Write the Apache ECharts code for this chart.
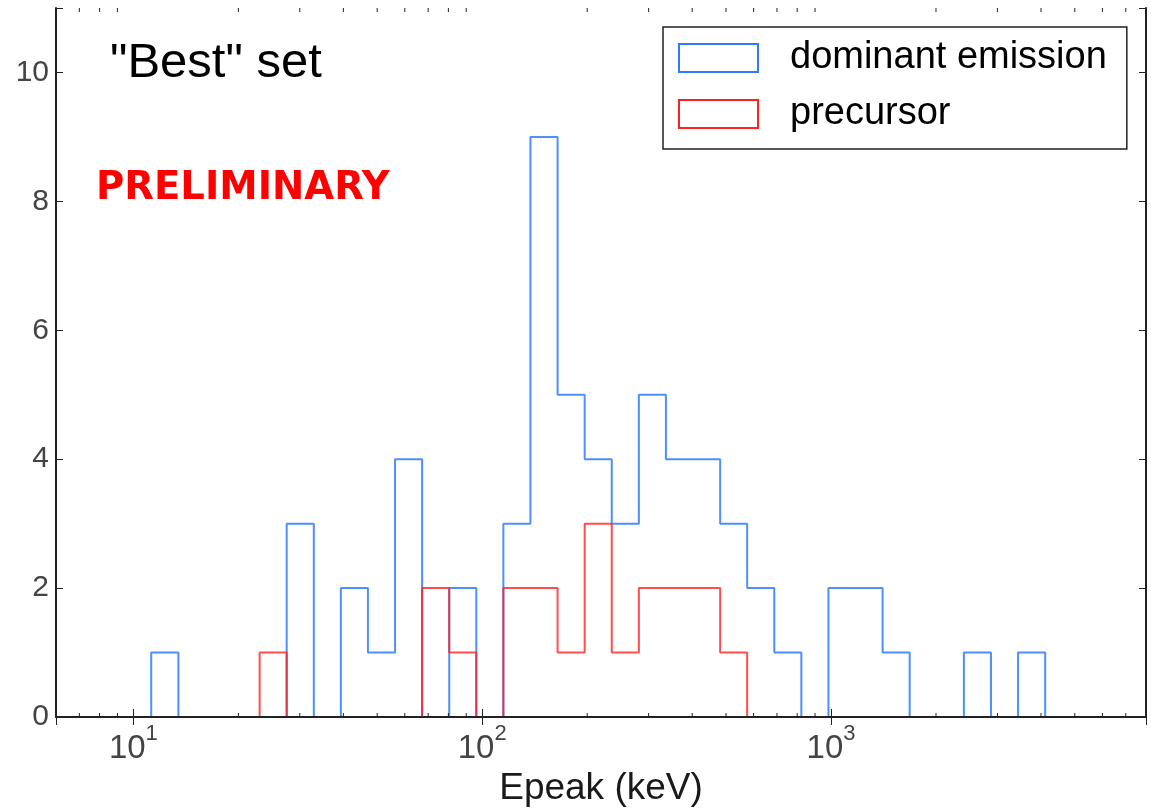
<!DOCTYPE html>
<html>
<head>
<meta charset="utf-8">
<title>Epeak distribution</title>
<script src="https://cdn.jsdelivr.net/npm/echarts@6/dist/echarts.min.js"></script>
<style>
  html, body { margin: 0; padding: 0; background: #fff; }
  #chart { width: 1151px; height: 810px; }
</style>
</head>
<body>
<div id="chart"></div>
<script>
// bin edges in keV (log spaced)
var binEdges = [11.25, 13.46, 16.09, 19.24, 23.01, 27.51, 32.91, 39.34, 47.04, 56.26,
  67.27, 80.45, 96.18, 115.0, 137.5, 164.5, 196.7, 235.2, 281.3, 336.3,
  402.1, 481.1, 575.0, 687.7, 822.2, 983.3, 1176, 1406, 1681, 2011,
  2404, 2875, 3438, 4112];
// counts per bin
var dominantCounts = [1, 0, 0, 0, 0, 3, 0, 2, 1, 4, 0, 2, 0, 3, 9, 5, 4,
  3, 5, 4, 4, 3, 2, 1, 0, 2, 2, 1, 0, 0, 1, 0, 1];
var precursorCounts = [0, 0, 0, 0, 1, 0, 0, 0, 0, 0, 2, 1, 0, 2, 2, 1, 3,
  1, 2, 2, 2, 1, 0, 0, 0, 0, 0, 0, 0, 0, 0, 0, 0];
var seriesNames = ['dominant emission', 'precursor'];
// minor ticks of the log axis
var minorTicks = [7, 8, 9, 20, 30, 40, 50, 60, 70, 80, 90,
  200, 300, 400, 500, 600, 700, 800, 900,
  2000, 3000, 4000, 5000, 6000, 7000];

var BLUE = '#2f7bff';
var RED = '#ff2020';
var FONT = 'Liberation Sans';

function stepData(counts) {
  var d = [[binEdges[0], 0]];
  for (var i = 0; i < counts.length; i++) {
    d.push([binEdges[i], counts[i]]);
  }
  d.push([binEdges[counts.length], 0]);
  return d;
}

function powLabel(v) {
  var l = Math.log10(v);
  var p = Math.round(l);
  if (Math.abs(l - p) > 1e-6) return '';
  return '{b|10}{s|' + p + '}';
}

var axisLine = { show: true, lineStyle: { color: '#222', width: 2 } };

var chartDom = document.getElementById('chart');
var myChart = echarts.init(chartDom);
var option = {
  animation: false,
  grid: { left: 56, right: 5, top: 8, bottom: 93, containLabel: false, outerBoundsMode: 'none' },
  xAxis: [
    {
      type: 'log',
      logBase: 10,
      min: 6,
      max: 8000,
      position: 'bottom',
      z: 5,
      axisLine: axisLine,
      axisTick: { inside: true, length: 8, lineStyle: { color: '#222', width: 1 } },
      splitLine: { show: false },
      axisLabel: {
        margin: 6,
        formatter: powLabel,
        rich: {
          b: { fontSize: 33, fontFamily: FONT, color: '#444', lineHeight: 42, verticalAlign: 'bottom' },
          s: { fontSize: 22, fontFamily: FONT, color: '#444', verticalAlign: 'top' }
        }
      },
      name: 'Epeak (keV)',
      nameLocation: 'middle',
      nameGap: 53,
      nameTextStyle: { fontSize: 37, fontFamily: FONT, color: '#1a1a1a' }
    },
    {
      type: 'log',
      logBase: 10,
      min: 6,
      max: 8000,
      position: 'top',
      z: 5,
      axisLine: axisLine,
      axisTick: { inside: true, length: 8, lineStyle: { color: '#222', width: 1 } },
      axisLabel: { show: false },
      splitLine: { show: false }
    }
  ],
  yAxis: [
    {
      type: 'value',
      min: 0,
      max: 11,
      interval: 2,
      position: 'left',
      axisLine: axisLine,
      axisTick: { inside: true, length: 7, lineStyle: { color: '#222', width: 1 } },
      splitLine: { show: false },
      axisLabel: {
        margin: 7,
        fontSize: 30,
        fontFamily: FONT,
        color: '#444',
        formatter: function (v) { return v <= 10 ? String(v) : ''; }
      }
    },
    {
      type: 'value',
      min: 0,
      max: 11,
      interval: 2,
      position: 'right',
      axisLine: axisLine,
      axisTick: { inside: true, length: 7, lineStyle: { color: '#222', width: 1 } },
      axisLabel: { show: false },
      splitLine: { show: false }
    }
  ],
  legend: {
    orient: 'vertical',
    left: 663,
    top: 27,
    padding: [12, 20, 16, 15],
    itemGap: 18,
    itemWidth: 79,
    itemHeight: 28,
    icon: 'rect',
    selectedMode: false,
    backgroundColor: '#fff',
    borderColor: '#222',
    borderWidth: 1.5,
    textStyle: { fontFamily: FONT, fontSize: 38, color: '#000', padding: [10, 0, 0, 27] },
    data: [
      { name: seriesNames[0], itemStyle: { color: '#fff', borderColor: BLUE, borderWidth: 2 } },
      { name: seriesNames[1], itemStyle: { color: '#fff', borderColor: RED, borderWidth: 2 } }
    ]
  },
  graphic: [
    {
      type: 'text',
      x: 110,
      y: 63,
      style: { text: '"Best" set', font: '49px "Liberation Sans"', fill: '#000', verticalAlign: 'middle', textVerticalAlign: 'middle' }
    },
    {
      type: 'text',
      x: 96,
      y: 189,
      style: { text: 'PRELIMINARY', font: 'bold 38.6px "DejaVu Sans"', fill: '#ff0000', verticalAlign: 'middle', textVerticalAlign: 'middle' }
    }
  ],
  series: [
    {
      name: seriesNames[0],
      type: 'line',
      step: 'end',
      data: stepData(dominantCounts),
      showSymbol: false,
      symbol: 'none',
      lineStyle: { color: BLUE, width: 2, opacity: 0.85 },
      itemStyle: { color: BLUE },
      z: 2
    },
    {
      name: seriesNames[1],
      type: 'line',
      step: 'end',
      data: stepData(precursorCounts),
      showSymbol: false,
      symbol: 'none',
      lineStyle: { color: RED, width: 2, opacity: 0.8 },
      itemStyle: { color: RED },
      z: 3
    },
    {
      name: 'minor ticks',
      type: 'custom',
      silent: true,
      z: 6,
      data: minorTicks.map(function (v) { return [v, 0]; }),
      renderItem: function (params, api) {
        var v = api.value(0);
        var b = api.coord([v, 0]);
        var t = api.coord([v, 11]);
        var st = { stroke: '#222', lineWidth: 1 };
        return {
          type: 'group',
          children: [
            { type: 'line', shape: { x1: b[0], y1: b[1], x2: b[0], y2: b[1] - 4 }, style: st },
            { type: 'line', shape: { x1: t[0], y1: t[1], x2: t[0], y2: t[1] + 4 }, style: st }
          ]
        };
      }
    }
  ]
};
option && myChart.setOption(option);
</script>
</body>
</html>
